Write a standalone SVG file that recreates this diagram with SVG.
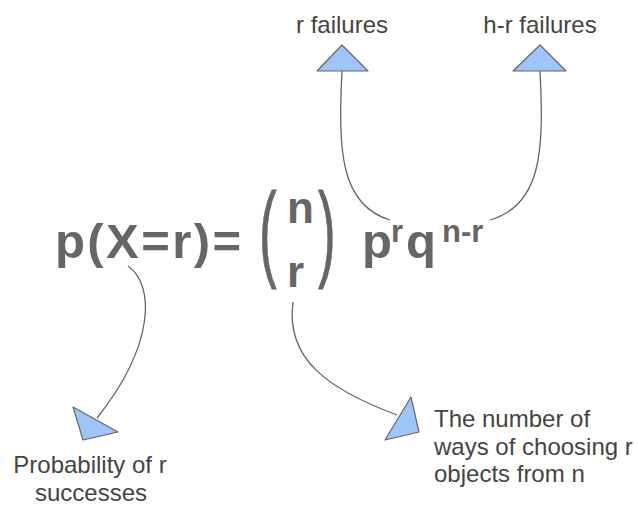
<svg xmlns="http://www.w3.org/2000/svg" width="638" height="507" viewBox="0 0 638 507">
<style>
.f{font-family:"Liberation Sans",Arial,sans-serif;font-weight:bold;fill:#666666}
.par{font-family:"Liberation Sans",Arial,sans-serif;font-weight:normal;fill:#666666}
.lbl{font-family:"Liberation Sans",Arial,sans-serif;font-size:24px;fill:#444444}
.c{fill:none;stroke:#666666;stroke-width:1.3}
.h{fill:#9fc5f8;stroke:#666666;stroke-width:1.2;stroke-linejoin:round}
</style>
<rect width="638" height="507" fill="#ffffff"/>
<g id="formula">
<text class="f" x="55" y="258" font-size="49" textLength="186" lengthAdjust="spacing">p(X=r)=</text>
<text class="par" font-size="106" stroke="#666666" stroke-width="0.8" transform="translate(259,267) scale(0.5,1)">(</text>
<text class="f" x="287" y="223" font-size="44">n</text>
<text class="f" x="287" y="287" font-size="44">r</text>
<text class="par" font-size="106" stroke="#666666" stroke-width="0.8" transform="translate(318,267) scale(0.5,1)">)</text>
<text class="f" x="362" y="258" font-size="49">p</text>
<text class="f" x="391" y="242" font-size="31">r</text>
<text class="f" x="406" y="258" font-size="49">q</text>
<text class="f" x="442" y="242" font-size="31">n-r</text>
</g>
<g id="label-r-failures"><text class="lbl" x="342" y="33" text-anchor="middle">r failures</text></g>
<g id="label-hr-failures"><text class="lbl" x="540" y="33" text-anchor="middle">h-r failures</text></g>
<g id="label-probability"><text class="lbl" x="90" y="473" text-anchor="middle">Probability of r</text><text class="lbl" x="91" y="501" text-anchor="middle">successes</text></g>
<g id="label-ways"><text class="lbl" x="434" y="427">The number of</text><text class="lbl" x="434" y="455">ways of choosing r</text><text class="lbl" x="434" y="482">objects from n</text></g>
<g id="connectors">
<path class="c" d="M342,71 C338,150 340,205 390,220"/>
<path class="c" d="M540,71 C544,150 542,205 490,220"/>
<path class="c" d="M128,266 C155,285 155,345 97,418"/>
<path class="c" d="M293,302 C285,360 330,390 397,415"/>
<polygon class="h" points="342,45 317,71 368,71"/>
<polygon class="h" points="540,45 513,71 566,71"/>
<polygon class="h" points="73,407 118,432 83,440"/>
<polygon class="h" points="411,397 419,432 385,440"/>
</g>
</svg>
